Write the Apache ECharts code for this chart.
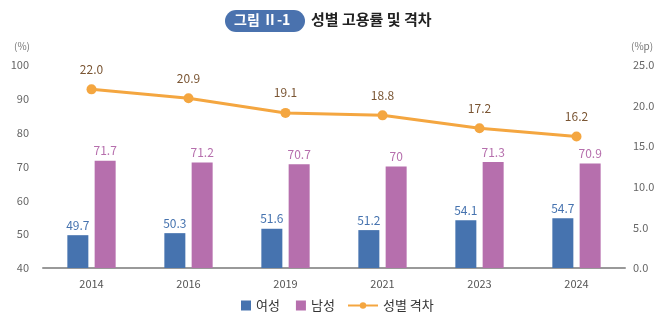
<!DOCTYPE html>
<html><head><meta charset="utf-8">
<script src="https://cdn.jsdelivr.net/npm/echarts@6/dist/echarts.min.js"></script>
<style>html,body{margin:0;padding:0;background:#fff}#c{width:658px;height:322px}</style>
</head><body><div id="c"></div>
<script>
const categories = ['2014','2016','2019','2021','2023','2024'];
const female = [49.7, 50.3, 51.6, 51.2, 54.1, 54.7];
const male = [71.7, 71.2, 70.7, 70, 71.3, 70.9];
const gap = [22.0, 20.9, 19.1, 18.8, 17.2, 16.2];
const leftTicks = [40, 100, 10];
const rightTicks = [0, 25, 5];
const FONT = '"Noto Sans CJK KR", "Noto Sans", sans-serif';

const chart = echarts.init(document.getElementById('c'));
chart.setOption({
  animation: false,
  textStyle: { fontFamily: FONT },
  grid: { left: 43, right: 33, top: 65, bottom: 54, containLabel: false },
  legend: [
    {
      bottom: 5, left: 236, itemGap: 16, itemWidth: 10, itemHeight: 10,
      textStyle: { fontFamily: FONT, fontSize: 13, color: '#333' },
      data: [ { name: '여성', icon: 'rect' }, { name: '남성', icon: 'rect' } ]
    },
    {
      bottom: 5, left: 342, itemWidth: 30, itemHeight: 8,
      textStyle: { fontFamily: FONT, fontSize: 13, color: '#333' },
      data: [ { name: '성별 격차' } ]
    }
  ],
  graphic: [
    { type: 'rect', left: 225, top: 10, shape: { width: 80, height: 22, r: 11 }, style: { fill: '#4A72AE' } },
    { type: 'text', left: 234, top: 13, style: { text: '그림 Ⅱ-1', fill: '#fff', font: 'bold 14px ' + FONT } },
    { type: 'text', left: 311, top: 12, style: { text: '성별 고용률 및 격차', fill: '#222', font: 'bold 15px ' + FONT } },
    { type: 'text', left: 14, top: 41, style: { text: '(%)', fill: '#777', font: '10px ' + FONT } },
    { type: 'text', left: 631, top: 41, style: { text: '(%p)', fill: '#777', font: '10px ' + FONT } }
  ],
  xAxis: {
    type: 'category', data: categories,
    axisLine: { lineStyle: { color: '#999', width: 2 } },
    axisTick: { show: false },
    axisLabel: { color: '#555', fontSize: 11, margin: 10 }
  },
  yAxis: [
    { type: 'value', min: leftTicks[0], max: leftTicks[1], interval: leftTicks[2],
      splitLine: { show: false }, axisLine: { show: false }, axisTick: { show: false },
      axisLabel: { color: '#666', fontSize: 11, margin: 14 } },
    { type: 'value', min: rightTicks[0], max: rightTicks[1], interval: rightTicks[2],
      splitLine: { show: false }, axisLine: { show: false }, axisTick: { show: false },
      axisLabel: { color: '#666', fontSize: 11, margin: 8, formatter: v => v.toFixed(1) } }
  ],
  series: [
    { name: '여성', type: 'bar', data: female, barWidth: 21, barGap: '30%',
      itemStyle: { color: '#4673AF' },
      label: { show: true, position: 'top', color: '#4673AF', fontSize: 12, distance: 4 } },
    { name: '남성', type: 'bar', data: male, barWidth: 21,
      itemStyle: { color: '#B66FAD' },
      label: { show: true, position: 'top', color: '#B66FAD', fontSize: 12, distance: 4 } },
    { name: '성별 격차', type: 'line', yAxisIndex: 1, data: gap,
      symbol: 'circle', symbolSize: 10,
      lineStyle: { color: '#F4A640', width: 3 }, itemStyle: { color: '#F4A640' },
      label: { show: true, position: 'top', color: '#7A5533', fontSize: 12, distance: 9,
        formatter: p => p.value.toFixed(1) } }
  ]
});
</script></body></html>
